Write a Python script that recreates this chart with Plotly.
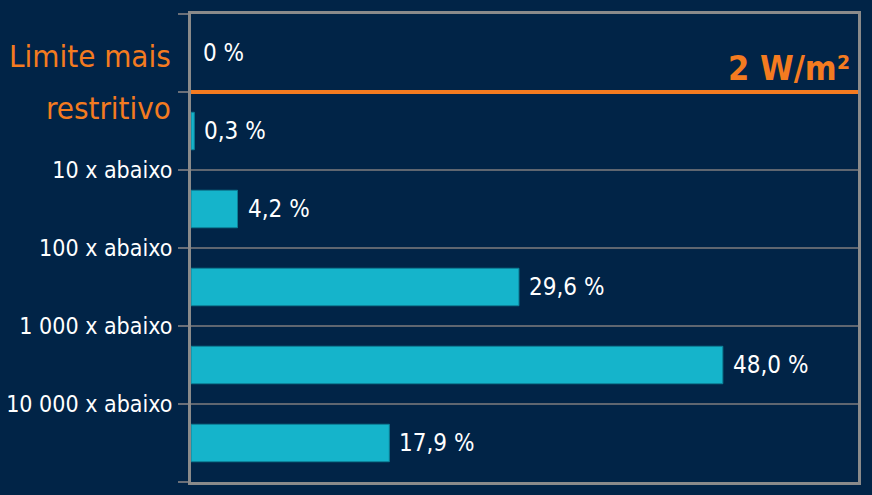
import plotly.graph_objects as go

# Data
rows = [0, 1, 2, 3, 4, 5]
values = [0.0, 0.3, 4.2, 29.6, 48.0, 17.9]
value_labels = ["0 %", "0,3 %", "4,2 %", "29,6 %", "48,0 %", "17,9 %"]
tick_positions = [-0.5, 0.5, 1.5, 2.5, 3.5, 4.5, 5.5]
tick_labels = ["", "", "10 x abaixo", "100 x abaixo", "1 000 x abaixo", "10 000 x abaixo", ""]
limit_label_lines = ["Limite mais", "restritivo"]
limit_label_y = [0.04, 0.70]
limit_value_label = "2 W/m²"

BG = "#012447"
CYAN = "#15b4cb"
ORANGE = "#f47b20"
FONT = "DejaVu Sans Condensed, Roboto Condensed, Roboto"

fig = go.Figure()
fig.add_trace(go.Bar(
    x=values[1:], y=rows[1:], orientation="h",
    width=0.48,
    marker=dict(color=CYAN, line=dict(color="#0d7f96", width=1)),
    hoverinfo="skip",
))

for v, r, t in zip(values, rows, value_labels):
    fig.add_annotation(
        x=v, y=r, xref="x", yref="y", text=t, showarrow=False,
        xanchor="left", yanchor="middle", xshift=8 if v > 0 else 10,
        font=dict(family=FONT, size=24, color="white"),
    )

# Orange limit line
fig.add_shape(type="line", xref="x domain", yref="y", x0=0, x1=1, y0=0.5, y1=0.5,
              line=dict(color=ORANGE, width=4), layer="above")
fig.add_annotation(
    x=1, y=0.5, xref="x domain", yref="y", text=limit_value_label, showarrow=False,
    xanchor="right", yanchor="bottom", xshift=-6, yshift=2,
    font=dict(family=FONT, size=34, color=ORANGE, weight="bold"),
)
for line, ly in zip(limit_label_lines, limit_label_y):
    fig.add_annotation(
        x=0, y=ly, xref="paper", yref="y", text=line, showarrow=False,
        xanchor="right", yanchor="middle", xshift=-18, align="right",
        font=dict(family=FONT, size=31, color=ORANGE),
    )

fig.update_layout(
    width=872, height=495,
    margin=dict(l=191, r=14, t=14, b=13),
    paper_bgcolor=BG, plot_bgcolor=BG,
    showlegend=False,
    bargap=0.5,
)
fig.update_xaxes(range=[0, 60.2], showgrid=False, zeroline=False, showticklabels=False,
                 showline=True, mirror=True, linecolor="#8a8a8a", linewidth=3, ticks="",
                 automargin=False)
fig.update_yaxes(range=[5.5, -0.5], tickmode="array", tickvals=tick_positions, ticktext=tick_labels,
                 showgrid=True, gridcolor="#5f6670", gridwidth=2, zeroline=False,
                 showline=True, mirror=True, linecolor="#8a8a8a", linewidth=3,
                 ticks="outside", ticklen=10, tickwidth=2, tickcolor="#6a6f78",
                 tickfont=dict(family=FONT, size=23, color="white"), ticklabelstandoff=1,
                 automargin=False)

fig.write_html("out.html")
